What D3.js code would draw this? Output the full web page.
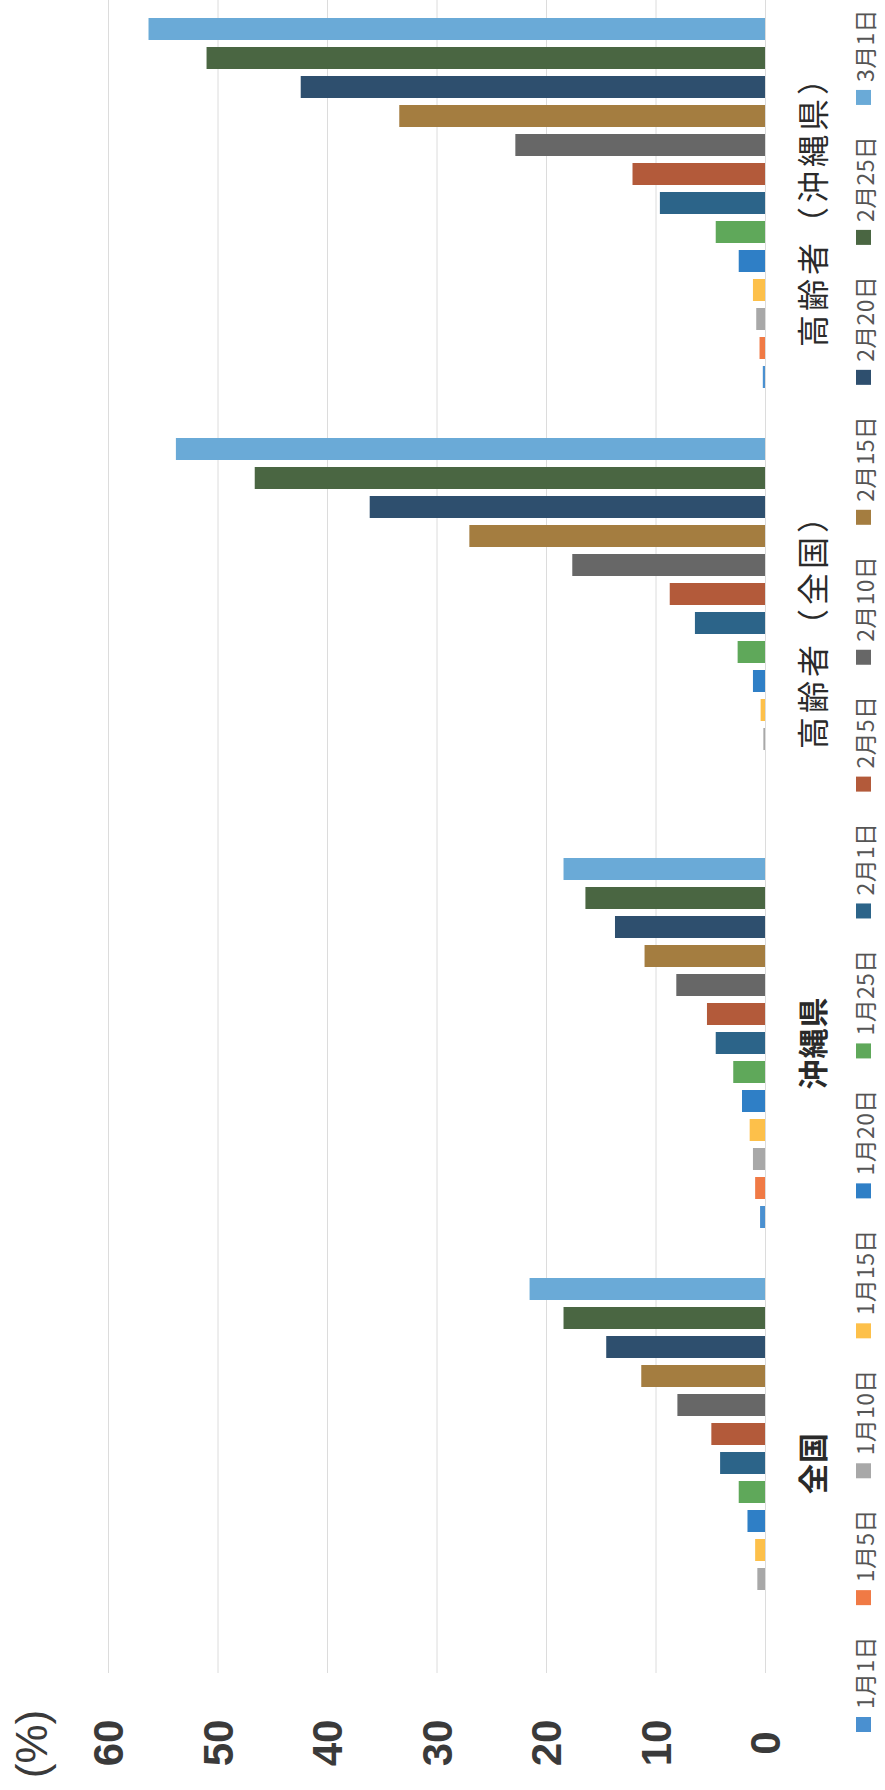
<!DOCTYPE html>
<html>
<head>
<meta charset="utf-8">
<script src="https://cdn.jsdelivr.net/npm/d3@7"></script>
<style>
  html, body { margin: 0; padding: 0; background: #fff; }
  svg { display: block; }
</style>
</head>
<body>
<svg id="chart" width="885" height="1790"></svg>
<script>
// ---- data ----
const categories = ["全国", "沖縄県", "高齢者（全国）", "高齢者（沖縄県）"];
const seriesNames = ["1月1日", "1月5日", "1月10日", "1月15日", "1月20日", "1月25日",
                     "2月1日", "2月5日", "2月10日", "2月15日", "2月20日", "2月25日", "3月1日"];
const valuesZenkoku        = [0, 0, 0.7, 0.9, 1.6, 2.4, 4.1, 4.9, 8.0, 11.3, 14.5, 18.4, 21.5];
const valuesOkinawa        = [0.45, 0.9, 1.1, 1.4, 2.1, 2.9, 4.5, 5.3, 8.1, 11.0, 13.7, 16.4, 18.4];
const valuesElderlyZenkoku = [0, 0, 0.15, 0.4, 1.1, 2.5, 6.4, 8.7, 17.6, 27.0, 36.1, 46.6, 53.8];
const valuesElderlyOkinawa = [0.2, 0.5, 0.8, 1.1, 2.4, 4.5, 9.6, 12.1, 22.8, 33.4, 42.4, 51.0, 56.3];
const tickValues = [0, 10, 20, 30, 40, 50, 60];
const unitLabel = "(%)";
const seriesColors = ["#4a90d0", "#f07a45", "#a8a8a8", "#fdc04a", "#2f7fc6", "#5fa85a",
                      "#2c6489", "#b35a3a", "#676767", "#a47d40", "#2e4f6e", "#4a6642", "#6aaad7"];

const valueTable = [valuesZenkoku, valuesOkinawa, valuesElderlyZenkoku, valuesElderlyOkinawa];
const rows = categories.map((c, i) => ({
  category: c,
  values: seriesNames.map((s, j) => ({ series: s, value: valueTable[i][j] }))
}));

// ---- layout (chart rotated: categories run bottom->top, values right->left) ----
const svg = d3.select("#chart");
const plotBottom = 1673, plotTop = -7;

const x0 = d3.scaleBand().domain(categories).range([plotBottom, plotTop]).padding(0);
const x1 = d3.scaleBand().domain(seriesNames).range([x0.bandwidth(), 0])
  .paddingInner(0.2414).paddingOuter(0.862);
const y = d3.scaleLinear().domain([0, 60]).range([765, 108]);
const color = d3.scaleOrdinal().domain(seriesNames).range(seriesColors);

// gridlines + tick labels via axis
const axis = d3.axisBottom(y).tickValues(tickValues).tickSize(-(plotBottom - 0)).tickFormat(d3.format("d"));
const ax = svg.append("g").attr("transform", `translate(0,${plotBottom})`).call(axis);
ax.select(".domain").remove();
ax.selectAll(".tick line").attr("stroke", "#dcdcdc").attr("stroke-width", 1);
ax.selectAll(".tick text")
  .attr("y", 0).attr("dy", null)
  .attr("transform", "translate(0,70) rotate(-90)")
  .attr("text-anchor", "middle")
  .attr("dominant-baseline", "central")
  .attr("fill", "#3a3a3a")
  .style("font-family", "'Liberation Sans', Arial, sans-serif")
  .style("font-weight", "bold")
  .style("font-size", "42px");

// unit label
svg.append("text")
  .attr("transform", "translate(31,1744) rotate(-90)")
  .attr("text-anchor", "middle")
  .attr("dominant-baseline", "central")
  .attr("fill", "#3a3a3a")
  .style("font-family", "'Liberation Sans', Arial, sans-serif")
  .style("font-size", "44px")
  .text(unitLabel);

// bars
const groups = svg.append("g").selectAll("g").data(rows).join("g")
  .attr("transform", d => `translate(0,${x0(d.category)})`);
groups.selectAll("rect").data(d => d.values).join("rect")
  .attr("y", d => x1(d.series))
  .attr("height", x1.bandwidth())
  .attr("x", d => y(d.value))
  .attr("width", d => y(0) - y(d.value))
  .attr("fill", d => color(d.series));

// category labels
svg.append("g").selectAll("text").data(categories).join("text")
  .attr("transform", d => `translate(811,${x0(d) + x0.bandwidth() / 2}) rotate(-90)`)
  .attr("text-anchor", "middle")
  .attr("dominant-baseline", "central")
  .attr("fill", "#2a2a2a")
  .style("font-family", "'Noto Sans CJK JP', sans-serif")
  .style("font-size", (d, i) => i < 2 ? "30px" : "32px")
  .style("font-weight", (d, i) => i < 2 ? "bold" : "normal")
  .style("letter-spacing", (d, i) => i < 2 ? "1px" : "4px")
  .text(d => d);

// legend (bottom -> top)
const legend = svg.append("g");
let cur = 1732;
const markerSize = 15, markerX = 856, textX = 864;
seriesNames.forEach(s => {
  legend.append("rect")
    .attr("x", markerX).attr("y", cur - markerSize)
    .attr("width", markerSize).attr("height", markerSize)
    .attr("fill", color(s));
  const start = cur - markerSize - 8;
  const t = legend.append("text")
    .attr("transform", `translate(${textX},${start}) rotate(-90)`)
    .attr("text-anchor", "start")
    .attr("dominant-baseline", "central")
    .attr("fill", "#555")
    .style("font-family", "'Noto Sans CJK JP', sans-serif")
    .style("font-size", "23px")
    .style("letter-spacing", "0.33px")
    .text(s);
  const w = t.node().getComputedTextLength();
  cur = start - w - 31;
});
</script>
</body>
</html>
